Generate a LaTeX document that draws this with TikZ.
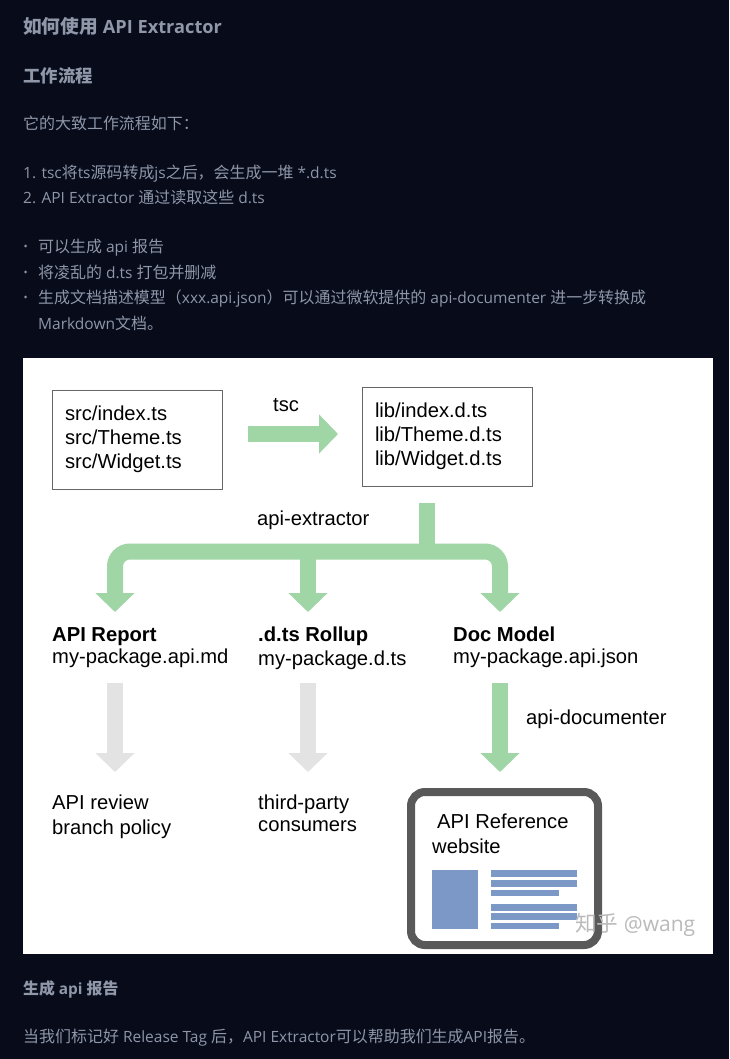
\documentclass[tikz,border=0pt]{standalone}
\usepackage{fontspec}
\setmainfont{Open Sans}
\newfontfamily\cjk[Scale=1.03]{Noto Sans CJK SC}
\newfontfamily\diag{Liberation Sans}
\usetikzlibrary{arrows.meta}
\newcommand{\zh}[1]{{\cjk #1}}
\newcommand{\smalldot}{\raisebox{1.2pt}{\fontsize{11}{11}\selectfont •}}
\definecolor{pagebg}{HTML}{070B1A}
\definecolor{bodytxt}{HTML}{8E96A8}
\definecolor{headtxt}{HTML}{8F97A8}
\definecolor{greenarrow}{HTML}{A0D6A6}
\definecolor{greyarrow}{HTML}{E3E3E3}
\definecolor{docblue}{HTML}{7B98C7}
\definecolor{frame}{HTML}{595959}
\tikzset{
  body/.style={anchor=base west,inner sep=0pt,text=bodytxt,font=\fontsize{15.5}{18}\selectfont},
  head/.style={anchor=base west,inner sep=0pt,text=headtxt,font=\fontsize{18.2}{22}\selectfont\bfseries},
  subhead/.style={anchor=base west,inner sep=0pt,text=headtxt,font=\fontsize{16.9}{20}\selectfont\bfseries},
  subheadsm/.style={subhead,font=\fontsize{15.4}{20}\selectfont\bfseries},
  dlabel/.style={anchor=base west,inner sep=0pt,text=black,align=left,font=\diag\fontsize{20.2}{24}\selectfont},
  filebox/.style={draw=black!60,line width=1pt,fill=white,minimum width=170pt,minimum height=99pt,
    text width=144pt,inner xsep=13pt,inner ysep=0pt,align=left,text=black,font=\diag\fontsize{20.2}{24}\selectfont},
  fat/.style={line width=16pt,draw=greenarrow,-{Triangle[length=19pt,width=38pt]}},
  fatgrey/.style={fat,draw=greyarrow},
  bar/.style={fill=docblue,draw=none},
  watermark/.style={anchor=base west,inner sep=0pt,text=black!27,font=\fontsize{21}{25}\selectfont}
}
\begin{document}
\begin{tikzpicture}[x=1pt,y=-1pt]
\useasboundingbox (0,0) rectangle (729,1059);
\fill[pagebg] (0,0) rectangle (729,1059);
% page text
\node[head] (t1) at (23,33.5) {\zh{如何使用} API Extractor};
\node[subhead] (t2) at (23,82.5) {\zh{工作流程}};
\node[body] (t3) at (23,130) {\zh{它的大致工作流程如下：}};
\node[body] (t4) at (23,179) {1. tsc\zh{将}ts\zh{源码转成}js\zh{之后，会生成一堆} *.d.ts};
\node[body] (t5) at (23,204) {2. API Extractor \zh{通过读取这些} d.ts};
\node[body] (b1) at (23.5,252) {\smalldot};
\node[body] (b2) at (23.5,278) {\smalldot};
\node[body] (b3) at (23.5,303) {\smalldot};
\node[body] (t6) at (38,252) {\zh{可以生成} api \zh{报告}};
\node[body] (t7) at (38,278) {\zh{将凌乱的} d.ts \zh{打包并删减}};
\node[body] (t8) at (38,303) {\zh{生成文档描述模型（}xxx.api.json\zh{）可以通过微软提供的} api-documenter \zh{进一步转换成}};
\node[body] (t9) at (38,329) {Markdown\zh{文档。}};
\node[subheadsm] (t10) at (23,994.5) {\zh{生成} api \zh{报告}};
\node[body] (t11) at (23,1042) {\zh{当我们标记好} Release Tag \zh{后，}API Extractor\zh{可以帮助我们生成}API\zh{报告。}};
% white panel
\fill[white] (23,358) rectangle (713,954);
% file boxes
\node[filebox] (src) at (137,439.5) {src/index.ts\\src/Theme.ts\\src/Widget.ts};
\node[filebox] (lib) at (447,436.5) {lib/index.d.ts\\lib/Theme.d.ts\\lib/Widget.d.ts};
% tsc
\coordinate (tscA) at (248,434);
\coordinate (tscB) at (338,434);
\draw[fat] (tscA) -- (tscB);
\node[dlabel] (tsc) at (273,411) {tsc};
% api-extractor branches
\coordinate (stem) at (427,503);
\coordinate (hub) at (427,551.5);
\coordinate (tipL) at (115,612);
\coordinate (tipM) at (308,612);
\coordinate (tipR) at (500,612);
\draw[fat,rounded corners=15pt] (hub) -| (tipL);
\draw[fat,rounded corners=15pt] (hub) -| (tipR);
\draw[fat] (tipM |- hub) -- (tipM);
\draw[line width=16pt,draw=greenarrow] (stem) -- (hub);
\node[dlabel] (apiex) at (257,525) {api-extractor};
% outputs
\node[dlabel] (rep1) at (52,641) {\textbf{API Report}};
\node[dlabel] (rep2) at (52,663) {my-package.api.md};
\node[dlabel] (rol1) at (258,641) {\textbf{.d.ts Rollup}};
\node[dlabel] (rol2) at (258,665) {my-package.d.ts};
\node[dlabel] (doc1) at (453,641) {\textbf{Doc Model}};
\node[dlabel] (doc2) at (453,663) {my-package.api.json};
% lower arrows
\coordinate (g1a) at (115,683); \coordinate (g1b) at (115,772);
\coordinate (g2a) at (308,683); \coordinate (g2b) at (308,772);
\coordinate (g3a) at (500,683); \coordinate (g3b) at (500,772);
\draw[fatgrey] (g1a) -- (g1b);
\draw[fatgrey] (g2a) -- (g2b);
\draw[fat] (g3a) -- (g3b);
\node[dlabel] (apidoc) at (526,724) {api-documenter};
\node[dlabel] (rev1) at (52,809) {API review};
\node[dlabel] (rev2) at (52,834) {branch policy};
\node[dlabel] (con1) at (258,809) {third-party};
\node[dlabel] (con2) at (258,831) {consumers};
% website
\draw[draw=frame,line width=8pt,fill=white,rounded corners=14pt] (411,792) rectangle (598,945);
\node[dlabel] (web1) at (437,828) {API Reference};
\node[dlabel] (web2) at (432,853) {website};
\fill[bar] (432,870) rectangle (478,929);
\fill[bar] (491,870) rectangle (577,877);
\fill[bar] (491,880) rectangle (577,887);
\fill[bar] (491,890) rectangle (559,896);
\fill[bar] (491,904) rectangle (577,911);
\fill[bar] (491,913) rectangle (577,920);
\fill[bar] (491,923) rectangle (559,929);
\node[watermark] (wm) at (575,931) {\zh{知乎} @wang};
\end{tikzpicture}
\end{document}
